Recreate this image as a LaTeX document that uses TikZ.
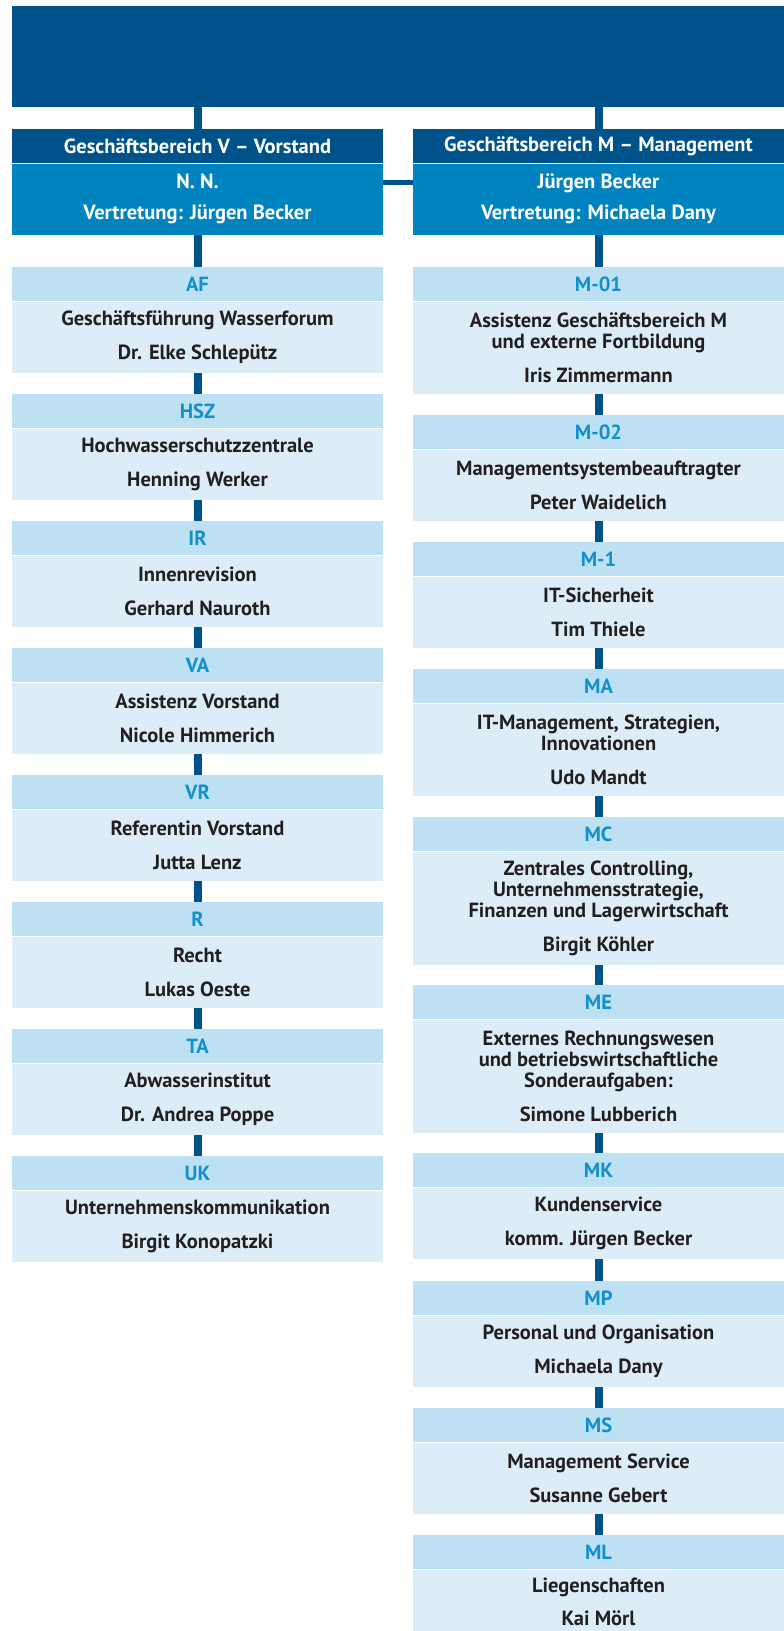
\documentclass[tikz,border=0pt]{standalone}
\usepackage{fontspec}
\setmainfont{PT Sans}
\definecolor{dark}{HTML}{00538A}
\definecolor{mid}{HTML}{0083BF}
\definecolor{lighthead}{HTML}{BDE0F3}
\definecolor{lightbody}{HTML}{DDEDF8}
\definecolor{headtext}{HTML}{1290CB}
\definecolor{bodytext}{HTML}{231F20}
\newcommand\orgunit[6]{%
  \node[unithead] (h#1) at (#2,#3) {#4};
  \node[unitbody, minimum height=#5pt] (b#1) at (h#1.south) {#6};
}
\begin{document}
\begin{tikzpicture}[x=1pt,y=-1pt,
  txt/.style={font=\fontsize{20.5}{21}\selectfont\bfseries},
  unithead/.style={txt, anchor=north, minimum width=371pt, minimum height=34pt, inner sep=0pt, fill=lighthead, text=headtext},
  unitbody/.style={txt, anchor=north, minimum width=371pt, inner sep=0pt, fill=lightbody, text=bodytext, align=center},
  tophead/.style={txt, anchor=north, minimum width=371pt, minimum height=34pt, inner sep=0pt, fill=dark, text=white},
  topbody/.style={txt, anchor=north, minimum width=371pt, minimum height=71pt, inner sep=0pt, fill=mid, text=white, align=center},
  conn/.style={draw=dark, line width=8pt},
  hbar/.style={draw=dark, line width=5pt}]
\useasboundingbox (0,0) rectangle (784,1631);
\node[fill=dark, anchor=north west, minimum width=772pt, minimum height=101pt, inner sep=0pt] (banner) at (12,6) {};
% top-level units
\node[tophead] (gv) at (197.5,129) {Geschäftsbereich V – Vorstand};
\node[topbody] (gvb) at (gv.south) {N. N.\\[10pt]Vertretung: Jürgen Becker};
\node[tophead] (gm) at (598.5,129) {Geschäftsbereich M – Management};
\node[topbody] (gmb) at (gm.south) {Jürgen Becker\\[10pt]Vertretung: Michaela Dany};
% left column
\orgunit{AF}{197.5}{267}{AF}{71}{Geschäftsführung Wasserforum\\[13pt]Dr. Elke Schlepütz}
\orgunit{HSZ}{197.5}{394}{HSZ}{71}{Hochwasserschutzzentrale\\[13pt]Henning Werker}
\orgunit{IR}{197.5}{521}{IR}{71}{Innenrevision\\[13pt]Gerhard Nauroth}
\orgunit{VA}{197.5}{648}{VA}{71}{Assistenz Vorstand\\[13pt]Nicole Himmerich}
\orgunit{VR}{197.5}{775}{VR}{71}{Referentin Vorstand\\[13pt]Jutta Lenz}
\orgunit{R}{197.5}{902}{R}{71}{Recht\\[13pt]Lukas Oeste}
\orgunit{TA}{197.5}{1029}{TA}{71}{Abwasserinstitut\\[13pt]Dr. Andrea Poppe}
\orgunit{UK}{197.5}{1156}{UK}{71}{Unternehmenskommunikation\\[13pt]Birgit Konopatzki}
% right column
\orgunit{M01}{598.5}{267}{M-01}{92}{Assistenz Geschäftsbereich M\\und externe Fortbildung\\[13pt]Iris Zimmermann}
\orgunit{M02}{598.5}{415}{M-02}{71}{Managementsystembeauftragter\\[13pt]Peter Waidelich}
\orgunit{M1}{598.5}{542}{M-1}{71}{IT-Sicherheit\\[13pt]Tim Thiele}
\orgunit{MA}{598.5}{669}{MA}{92}{IT-Management, Strategien,\\Innovationen\\[13pt]Udo Mandt}
\orgunit{MC}{598.5}{817}{MC}{113}{Zentrales Controlling,\\Unternehmensstrategie,\\Finanzen und Lagerwirtschaft\\[13pt]Birgit Köhler}
\orgunit{ME}{598.5}{985}{ME}{113}{Externes Rechnungswesen\\und betriebswirtschaftliche\\Sonderaufgaben:\\[13pt]Simone Lubberich}
\orgunit{MK}{598.5}{1153}{MK}{71}{Kundenservice\\[13pt]komm. Jürgen Becker}
\orgunit{MP}{598.5}{1281}{MP}{71}{Personal und Organisation\\[13pt]Michaela Dany}
\orgunit{MS}{598.5}{1408}{MS}{71}{Management Service\\[13pt]Susanne Gebert}
\orgunit{ML}{598.5}{1535}{ML}{64}{Liegenschaften\\[12pt]Kai Mörl}
% connectors
\draw[conn] (banner.south -| gv.north) -- (gv.north);
\draw[conn] (banner.south -| gm.north) -- (gm.north);
\draw[hbar] ([yshift=17pt]gvb.east) -- ([yshift=17pt]gmb.west);
\draw[conn] (gvb.south) -- (hAF.north);
\draw[conn] (bAF.south) -- (hHSZ.north);
\draw[conn] (bHSZ.south) -- (hIR.north);
\draw[conn] (bIR.south) -- (hVA.north);
\draw[conn] (bVA.south) -- (hVR.north);
\draw[conn] (bVR.south) -- (hR.north);
\draw[conn] (bR.south) -- (hTA.north);
\draw[conn] (bTA.south) -- (hUK.north);
\draw[conn] (gmb.south) -- (hM01.north);
\draw[conn] (bM01.south) -- (hM02.north);
\draw[conn] (bM02.south) -- (hM1.north);
\draw[conn] (bM1.south) -- (hMA.north);
\draw[conn] (bMA.south) -- (hMC.north);
\draw[conn] (bMC.south) -- (hME.north);
\draw[conn] (bME.south) -- (hMK.north);
\draw[conn] (bMK.south) -- (hMP.north);
\draw[conn] (bMP.south) -- (hMS.north);
\draw[conn] (bMS.south) -- (hML.north);
\end{tikzpicture}
\end{document}
